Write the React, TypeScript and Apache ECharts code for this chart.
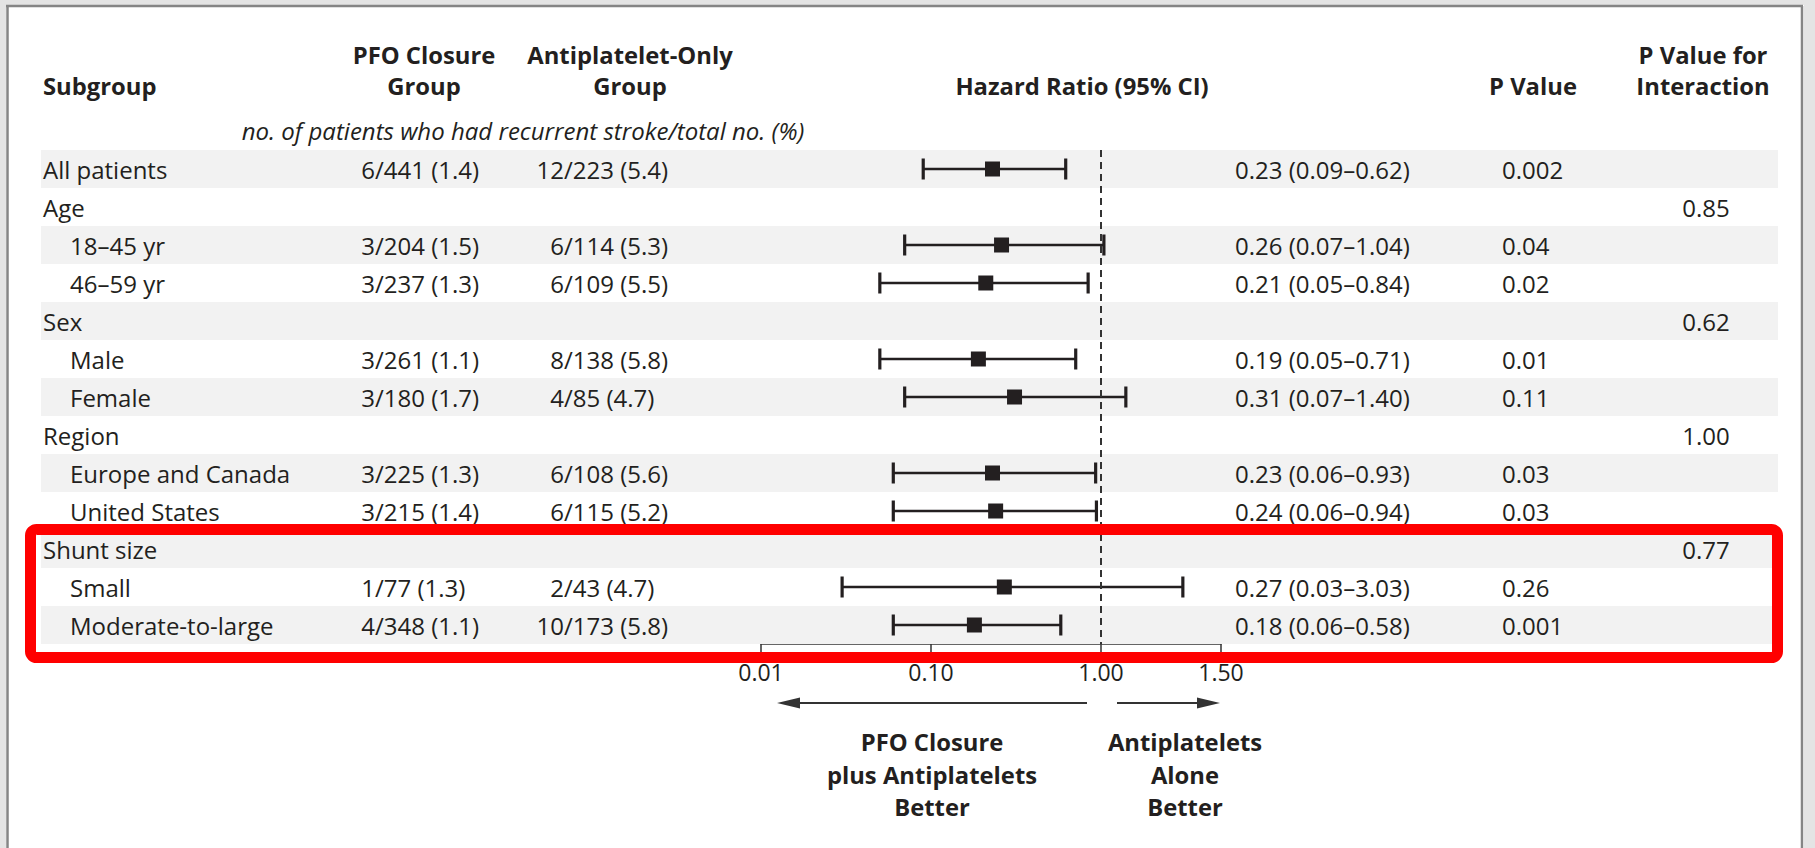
import React, { useEffect, useRef } from "react";
import * as echarts from "echarts";

// ---------- data ----------
const subgroups = [
  "All patients",
  "Age",
  "18–45 yr",
  "46–59 yr",
  "Sex",
  "Male",
  "Female",
  "Region",
  "Europe and Canada",
  "United States",
  "Shunt size",
  "Small",
  "Moderate-to-large",
];
const indentLevel = [0, 0, 1, 1, 0, 1, 1, 0, 1, 1, 0, 1, 1];
const pfoCounts = ["6/441 (1.4)", "", "3/204 (1.5)", "3/237 (1.3)", "", "3/261 (1.1)", "3/180 (1.7)", "", "3/225 (1.3)", "3/215 (1.4)", "", "1/77 (1.3)", "4/348 (1.1)"];
const antiplateletCounts = ["12/223 (5.4)", "", "6/114 (5.3)", "6/109 (5.5)", "", "8/138 (5.8)", "4/85 (4.7)", "", "6/108 (5.6)", "6/115 (5.2)", "", "2/43 (4.7)", "10/173 (5.8)"];
const hazardRatio = [0.23, null, 0.26, 0.21, null, 0.19, 0.31, null, 0.23, 0.24, null, 0.27, 0.18];
const ciLower = [0.09, null, 0.07, 0.05, null, 0.05, 0.07, null, 0.06, 0.06, null, 0.03, 0.06];
const ciUpper = [0.62, null, 1.04, 0.84, null, 0.71, 1.4, null, 0.93, 0.94, null, 3.03, 0.58];
const pValues = ["0.002", "", "0.04", "0.02", "", "0.01", "0.11", "", "0.03", "0.03", "", "0.26", "0.001"];
const pInteraction = ["", "0.85", "", "", "0.62", "", "", "1.00", "", "", "0.77", "", ""];
const axisTickValues = [0.01, 0.1, 1, 5.08];
const axisTickLabels = ["0.01", "0.10", "1.00", "1.50"];
const referenceValue = 1;

// ---------- style ----------
const FONT = "'Open Sans', sans-serif";
const INK = "#231f20";
const BAND = "#f2f2f2";
const FS = 24;
const FS_BOLD = 23.8;

function txt(text: string, x: number, y: number, align: string, extra: any = {}) {
  return {
    type: "text",
    x,
    y,
    silent: true,
    style: {
      text,
      fill: INK,
      fontSize: FS,
      fontFamily: FONT,
      align,
      verticalAlign: "middle",
      textAlign: align,
      textVerticalAlign: "middle",
      ...extra,
    },
  };
}

export default function App() {
  const ref = useRef<HTMLDivElement>(null);

  useEffect(() => {
    if (!ref.current) return;
    const chart = echarts.init(ref.current, undefined, { renderer: "svg" });

    const rowData = subgroups.map((_, i) => [0, i]);
    const forestData: any[] = [];
    hazardRatio.forEach((hr, i) => {
      if (hr != null) forestData.push([i, hr, ciLower[i], ciUpper[i]]);
    });

    const tableRender = (params: any, api: any) => {
      const i = api.value(1);
      const p0 = api.coord([0, i]);
      const p1 = api.coord([1, i]);
      const y = p0[1];
      const bh = api.size([0, 1])[1];
      const children: any[] = [];
      if (i % 2 === 0) {
        children.push({
          type: "rect",
          shape: { x: p0[0], y: y - bh / 2, width: p1[0] - p0[0], height: bh },
          style: { fill: BAND },
        });
      }
      children.push(txt(subgroups[i], 43 + indentLevel[i] * 27, y, "left"));
      const pfo = pfoCounts[i];
      if (pfo) {
        const k = pfo.indexOf("/");
        children.push(txt(pfo.slice(0, k), 375, y, "right"));
        children.push(txt(pfo.slice(k), 375, y, "left"));
      }
      const ap = antiplateletCounts[i];
      if (ap) {
        const k = ap.indexOf("/");
        children.push(txt(ap.slice(0, k), 564, y, "right"));
        children.push(txt(ap.slice(k), 564, y, "left"));
      }
      const hr = hazardRatio[i];
      if (hr != null) {
        const s = `${hr.toFixed(2)} (${(ciLower[i] as number).toFixed(2)}–${(ciUpper[i] as number).toFixed(2)})`;
        children.push(txt(s, 1235, y, "left"));
      }
      if (pValues[i]) children.push(txt(pValues[i], 1502, y, "left"));
      if (pInteraction[i]) children.push(txt(pInteraction[i], 1706, y, "center"));
      return { type: "group", children };
    };

    const forestRender = (params: any, api: any) => {
      const i = api.value(0);
      const c = api.coord([api.value(1), i]);
      const l = api.coord([api.value(2), i]);
      const h = api.coord([api.value(3), i]);
      const y = c[1];
      const col = "#231f20";
      return {
        type: "group",
        children: [
          { type: "line", shape: { x1: l[0], y1: y, x2: h[0], y2: y }, style: { stroke: col, lineWidth: 2.5 } },
          { type: "line", shape: { x1: l[0], y1: y - 10.5, x2: l[0], y2: y + 10.5 }, style: { stroke: col, lineWidth: 3.2 } },
          { type: "line", shape: { x1: h[0], y1: y - 10.5, x2: h[0], y2: y + 10.5 }, style: { stroke: col, lineWidth: 3.2 } },
          { type: "rect", shape: { x: c[0] - 7.5, y: y - 7.5, width: 15, height: 15 }, style: { fill: col } },
        ],
      };
    };

    const labelFor = (v: number) => {
      let best = 0;
      let bd = Infinity;
      axisTickValues.forEach((t, k) => {
        const d = Math.abs(Math.log10(t) - Math.log10(v));
        if (d < bd) {
          bd = d;
          best = k;
        }
      });
      return bd < 0.02 ? axisTickLabels[best] : "";
    };

    const bold = { fontWeight: "bold", fontSize: FS_BOLD };

    const option: any = {
      animation: false,
      backgroundColor: "#ffffff",
      grid: [
        { left: 41, top: 150, width: 1737, height: 494 },
        { left: 761, top: 150, width: 460, height: 494 },
      ],
      xAxis: [
        { gridIndex: 0, type: "value", min: 0, max: 1, show: false },
        {
          gridIndex: 1,
          type: "log",
          logBase: 10,
          min: axisTickValues[0],
          max: axisTickValues[axisTickValues.length - 1],
          axisLine: { show: true, lineStyle: { color: "#333", width: 1.5 } },
          axisTick: { show: true, length: 8, lineStyle: { color: "#333", width: 1.5 } },
          minorTick: { show: false },
          splitLine: { show: false },
          axisLabel: {
            show: true,
            margin: 16,
            fontSize: 23,
            fontFamily: FONT,
            color: INK,
            showMinLabel: true,
            showMaxLabel: true,
            formatter: (v: number) => labelFor(v),
          },
        },
      ],
      yAxis: [
        { gridIndex: 0, type: "category", data: subgroups, inverse: true, show: false },
        { gridIndex: 1, type: "category", data: subgroups, inverse: true, show: false },
      ],
      series: [
        {
          type: "custom",
          xAxisIndex: 0,
          yAxisIndex: 0,
          renderItem: tableRender,
          encode: { x: 0, y: 1 },
          data: rowData,
          silent: true,
          z: 1,
        },
        {
          type: "custom",
          xAxisIndex: 1,
          yAxisIndex: 1,
          renderItem: forestRender,
          encode: { x: 1, y: 0 },
          data: forestData,
          silent: true,
          z: 3,
        },
        {
          type: "line",
          xAxisIndex: 1,
          yAxisIndex: 1,
          data: [],
          silent: true,
          z: 2,
          markLine: {
            silent: true,
            symbol: ["none", "none"],
            label: { show: false },
            lineStyle: { color: "#333", width: 2, type: [7, 5] },
            data: [{ xAxis: referenceValue }],
          },
        },
      ],
      graphic: [
        // outer shading and frame
        { type: "rect", shape: { x: 0, y: 0, width: 1815, height: 5 }, style: { fill: "#e4e4e4" }, silent: true },
        { type: "rect", shape: { x: 0, y: 0, width: 6, height: 848 }, style: { fill: "#e4e4e4" }, silent: true },
        { type: "rect", shape: { x: 1804, y: 0, width: 11, height: 848 }, style: { fill: "#e4e4e4" }, silent: true },
        { type: "line", shape: { x1: 6, y1: 6, x2: 1803, y2: 6 }, style: { stroke: "#858585", lineWidth: 2.5 }, silent: true },
        { type: "line", shape: { x1: 7.5, y1: 6, x2: 7.5, y2: 848 }, style: { stroke: "#858585", lineWidth: 2.5 }, silent: true },
        { type: "line", shape: { x1: 1802, y1: 6, x2: 1802, y2: 848 }, style: { stroke: "#858585", lineWidth: 2.5 }, silent: true },
        // headers
        txt("PFO Closure", 424, 55, "center", bold),
        txt("Antiplatelet-Only", 630, 55, "center", bold),
        txt("P Value for", 1703, 55, "center", bold),
        txt("Subgroup", 43, 86, "left", bold),
        txt("Group", 424, 86, "center", bold),
        txt("Group", 630, 86, "center", bold),
        txt("Hazard Ratio (95% CI)", 1082, 86, "center", bold),
        txt("P Value", 1533, 86, "center", bold),
        txt("Interaction", 1703, 86, "center", bold),
        txt("no. of patients who had recurrent stroke/total no. (%)", 523, 130, "center", { fontStyle: "italic" }),
        // direction arrows
        { type: "line", shape: { x1: 796, y1: 703, x2: 1087, y2: 703 }, style: { stroke: "#333", lineWidth: 2 }, silent: true },
        { type: "polygon", shape: { points: [[777, 703], [800, 697.5], [800, 708.5]] }, style: { fill: "#333" }, silent: true },
        { type: "line", shape: { x1: 1117, y1: 703, x2: 1202, y2: 703 }, style: { stroke: "#333", lineWidth: 2 }, silent: true },
        { type: "polygon", shape: { points: [[1220, 703], [1197, 697.5], [1197, 708.5]] }, style: { fill: "#333" }, silent: true },
        txt("PFO Closure", 932, 742, "center", bold),
        txt("plus Antiplatelets", 932, 775, "center", bold),
        txt("Better", 932, 807, "center", bold),
        txt("Antiplatelets", 1185, 742, "center", bold),
        txt("Alone", 1185, 775, "center", bold),
        txt("Better", 1185, 807, "center", bold),
        // red highlight box
        {
          type: "rect",
          z: 100,
          silent: true,
          shape: { x: 30.5, y: 529.5, width: 1747, height: 128, r: 6 },
          style: { fill: "none", stroke: "#ff0000", lineWidth: 11 },
        },
      ],
    };

    chart.setOption(option);
    return () => chart.dispose();
  }, []);

  return <div ref={ref} style={{ position: "fixed", left: 0, top: 0, width: 1815, height: 848 }} />;
}
